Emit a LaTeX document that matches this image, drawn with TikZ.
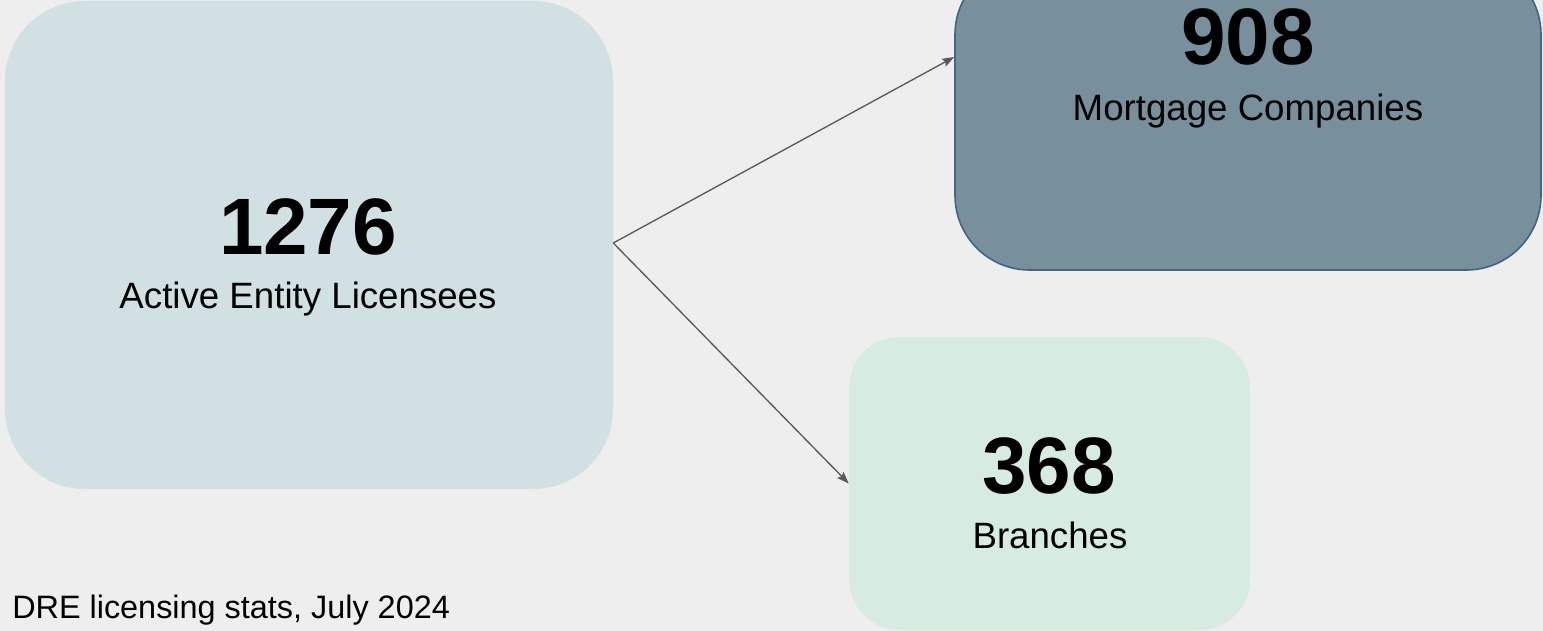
\documentclass[tikz,border=0pt]{standalone}
\usepackage{fontspec}
\setmainfont{Liberation Sans}
\usepackage{xcolor}
\usetikzlibrary{arrows.meta}
\definecolor{bgcol}{HTML}{EEEEEE}
\definecolor{entcol}{HTML}{D0E0E3}
\definecolor{mcocol}{HTML}{77909C}
\definecolor{mcoline}{HTML}{3D6689}
\definecolor{brcol}{HTML}{D7ECE1}
\definecolor{arrcol}{HTML}{595959}

\tikzset{
  box/.style={rectangle, inner sep=0pt},
  num/.style={anchor=base, font=\fontsize{60}{60}\selectfont\bfseries},
  lbl/.style={anchor=base, font=\fontsize{27.5}{30}\selectfont},
  link/.style={draw=arrcol, line width=1pt, -{Stealth[length=9pt,width=6.5pt,inset=1.5pt]}}
}

\begin{document}
\begin{tikzpicture}[x=0.75pt, y=-0.75pt]
\useasboundingbox (0,0) rectangle (1543,631);
\clip (0,0) rectangle (1543,631);
\fill[bgcol] (0,0) rectangle (1543,631);

% boxes
\node[box, fill=entcol, rounded corners=60pt, minimum width=456pt, minimum height=366pt] (ent) at (309,245) {};
\node[box, fill=mcocol, draw=mcoline, line width=1.2pt, rounded corners=56pt, minimum width=439.5pt, minimum height=232.5pt] (mco) at (1248,115) {};
\node[box, fill=brcol, rounded corners=38pt, minimum width=300.75pt, minimum height=219.75pt] (br) at (1049.5,483.5) {};

% texts
\node[num] (entnum) at (308,254) {1276};
\node[lbl] (entlbl) at (308,308) {Active Entity Licensees};
\node[num] (mconum) at (1248,65) {908};
\node[lbl] (mcolbl) at (1248,121) {Mortgage Companies};
\node[num] (brnum) at (1049,493) {368};
\node[lbl] (brlbl) at (1050,548) {Branches};
\node[anchor=base west, inner sep=0pt, font=\fontsize{24.3}{26}\selectfont] (note) at (12,618) {DRE licensing stats, July 2024};

% arrows
\draw[link] ([yshift=1.5pt]ent.east) -- ([yshift=43.5pt]mco.west);
\draw[link] ([yshift=1.5pt]ent.east) -- (br.west);
\end{tikzpicture}
\end{document}
